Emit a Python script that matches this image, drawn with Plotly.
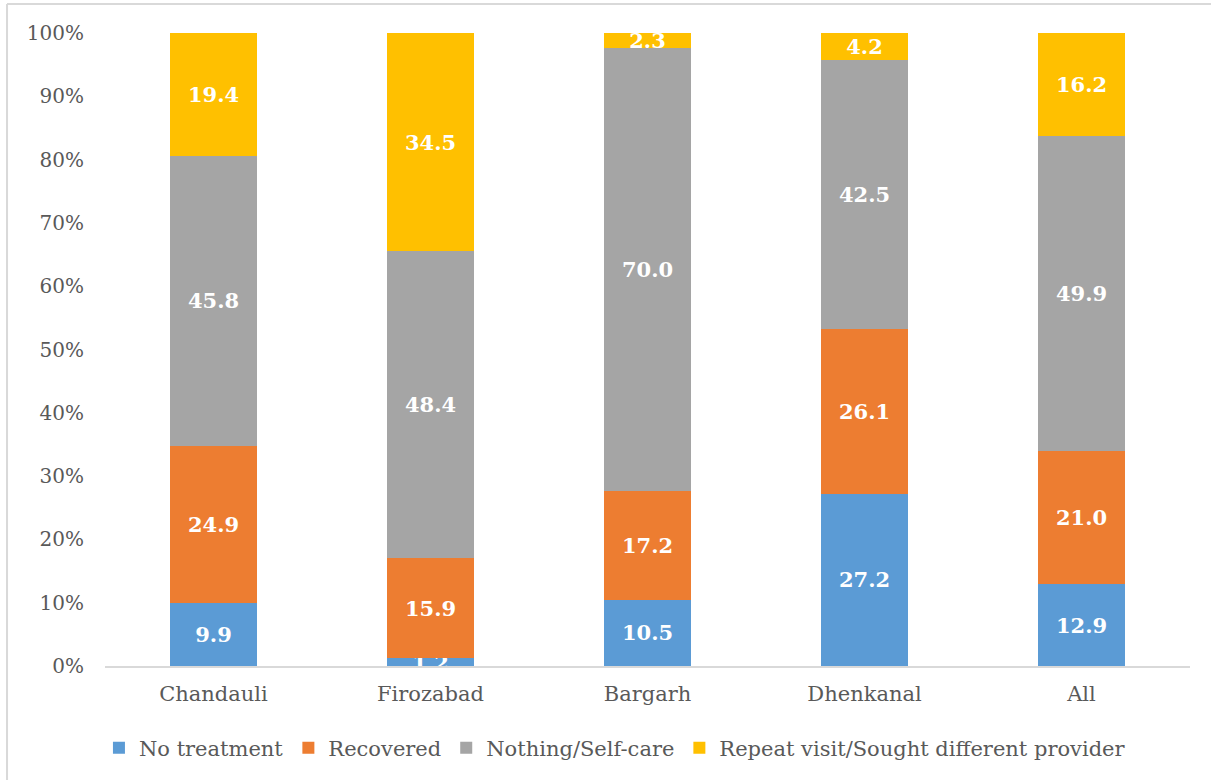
import plotly.graph_objects as go

districts = ["Chandauli", "Firozabad", "Bargarh", "Dhenkanal", "All"]
no_treatment = [9.9, 1.2, 10.5, 27.2, 12.9]
recovered = [24.9, 15.9, 17.2, 26.1, 21.0]
self_care = [45.8, 48.4, 70.0, 42.5, 49.9]
repeat_visit = [19.4, 34.5, 2.3, 4.2, 16.2]

series = [
    ("No treatment", no_treatment, "#5B9BD5"),
    ("Recovered", recovered, "#ED7D31"),
    ("Nothing/Self-care", self_care, "#A5A5A5"),
    ("Repeat visit/Sought different provider", repeat_visit, "#FFC000"),
]

FONT = "DejaVu Serif"
GREY_TEXT = "#595959"

fig = go.Figure()
for name, vals, color in series:
    fig.add_trace(go.Bar(
        name=name, x=districts, y=vals,
        marker=dict(color=color, line=dict(width=0)),
        text=[f"{v:.1f}" for v in vals],
        textposition="inside", insidetextanchor="middle",
        textfont=dict(family=FONT, size=21, color="white", weight="bold"),
        constraintext="none",
    ))

fig.update_layout(
    barmode="stack", bargap=0.6,
    width=1211, height=780,
    margin=dict(l=105, r=21, t=33, b=113),
    paper_bgcolor="white", plot_bgcolor="white",
    font=dict(family=FONT, color=GREY_TEXT, size=20),
    uniformtext=dict(mode="show", minsize=21),
    legend=dict(orientation="h", traceorder="normal",
                x=0.47, xanchor="center", y=-0.128, yanchor="middle",
                font=dict(family=FONT, size=21, color=GREY_TEXT),
                itemwidth=30),
    showlegend=True,
)
fig.update_yaxes(range=[0, 100], dtick=10, ticksuffix="%", showgrid=False,
                 zeroline=False, showline=False, ticks="", ticklabelstandoff=20,
                 tickfont=dict(family=FONT, size=20, color=GREY_TEXT))
fig.update_xaxes(showline=True, linecolor="#D9D9D9", linewidth=2, ticks="",
                 ticklabelstandoff=8,
                 tickfont=dict(family=FONT, size=21, color=GREY_TEXT))

# chart frame (top and left edges)
border = dict(type="line", xref="paper", yref="paper", line=dict(color="#D9D9D9", width=2))
fig.add_shape(**border, x0=-0.0903, x1=-0.0903, y0=-0.2, y1=1.0457)
fig.add_shape(**border, x0=-0.0903, x1=1.03, y0=1.0457, y1=1.0457)

fig.write_html("out.html")
